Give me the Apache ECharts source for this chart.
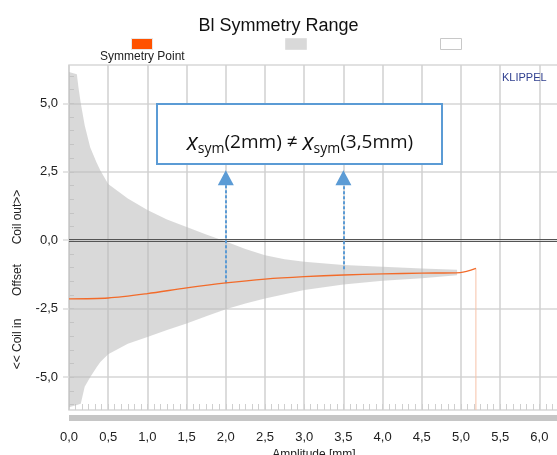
<!DOCTYPE html>
<html>
<head>
<meta charset="utf-8">
<script src="https://cdn.jsdelivr.net/npm/echarts@6/dist/echarts.min.js"></script>
<style>html,body{margin:0;padding:0;background:#fff}#c{width:557px;height:455px}</style>
</head>
<body>
<div id="c"></div>
<script>
// ---- data ----
const bandX     = [0, 0.1, 0.12, 0.15, 0.2, 0.27, 0.35, 0.4, 0.5, 0.75, 1.0, 1.25, 1.5, 1.75, 2.0, 2.25, 2.5, 2.75, 3.0, 3.5, 4.0, 4.5, 4.95];
const bandUpper = [6.14, 6.06, 5.6, 5.0, 4.2, 3.4, 2.85, 2.55, 2.05, 1.52, 1.1, 0.76, 0.48, 0.21, -0.05, -0.32, -0.55, -0.69, -0.79, -0.9, -0.97, -1.03, -1.08];
const bandLower = [-6.1, -6.02, -6.0, -5.97, -5.35, -5.0, -4.65, -4.45, -4.16, -3.78, -3.53, -3.28, -3.04, -2.78, -2.52, -2.31, -2.13, -1.97, -1.82, -1.62, -1.48, -1.39, -1.28];
const symX = [0, 0.5, 1.0, 1.5, 2.0, 2.5, 3.0, 3.5, 4.0, 4.5, 4.99, 5.19];
const symY = [-2.14, -2.11, -1.95, -1.74, -1.56, -1.42, -1.33, -1.27, -1.23, -1.2, -1.18, -1.03];
const dropX = [5.19, 5.19];
const dropY = [-1.03, -6.2];
const arrowX = [2.0, 3.5];
const arrowFromY = [-1.57, -1.06];
const arrowToY = [2.28, 2.28];
const yTickLabels = [-5, -2.5, 0, 2.5, 5];
const yMinorTicks = [-6, -5.5, -5, -4.5, -4, -3.5, -3, -2.5, -2, -1.5, -1, -0.5, 0, 0.5, 1, 1.5, 2, 2.5, 3, 3.5, 4, 4.5, 5, 5.5, 6];
const xRange = [0, 6.25];
const yRange = [-6.2, 6.4];

const FONT = "'Liberation Sans', Arial, sans-serif";
const fmt = v => v.toFixed(1).replace('.', ',');

const bandData = bandX.map((x, i) => [x, bandLower[i], bandUpper[i]]);
const symData = symX.map((x, i) => [x, symY[i]]);
const dropData = dropX.map((x, i) => [x, dropY[i]]);
const arrowLines = arrowX.map((x, i) => [{coord: [x, arrowFromY[i]]}, {coord: [x, arrowToY[i]]}]);

function renderBand(params, api) {
  if (params.dataIndex !== 0) return null;
  const pts = [];
  for (let i = 0; i < bandData.length; i++) pts.push(api.coord([bandData[i][0], bandData[i][2]]));
  for (let i = bandData.length - 1; i >= 0; i--) pts.push(api.coord([bandData[i][0], bandData[i][1]]));
  return {
    type: 'polygon',
    shape: {points: pts},
    style: {fill: 'rgba(185,185,185,0.55)', stroke: null}
  };
}

const chart = echarts.init(document.getElementById('c'), null, {renderer: 'canvas'});
chart.setOption({
  animation: false,
  backgroundColor: '#fff',
  title: {
    text: 'Bl Symmetry Range', left: 'center', top: 12,
    textStyle: {fontFamily: FONT, fontSize: 18, fontWeight: 'normal', color: '#111'}
  },
  grid: {left: 69, top: 65, right: -2, bottom: 45, containLabel: false, outerBoundsMode: 'none',
    show: true, borderColor: '#d8d8d8', borderWidth: 1.5},
  xAxis: [{
    type: 'value', min: xRange[0], max: xRange[1], interval: 0.5,
    name: 'Amplitude [mm]', nameLocation: 'middle', nameGap: 34,
    nameTextStyle: {fontFamily: FONT, fontSize: 12, color: '#222'},
    axisLine: {show: false, onZero: false},
    axisTick: {show: true, inside: true, length: 6, lineStyle: {color: '#cfcfcf', width: 1}},
    minorTick: {show: true, splitNumber: 6, length: 6, lineStyle: {color: '#cfcfcf', width: 1}},
    axisLabel: {
      fontFamily: FONT, fontSize: 13, color: '#222', margin: 21,
      formatter: v => (Math.abs(v * 2 - Math.round(v * 2)) < 1e-6 && v <= 6.01) ? fmt(v) : ''
    },
    splitLine: {show: true, lineStyle: {color: '#d0d0d0', width: 1.5}}
  }, {
    type: 'value', min: xRange[0], max: xRange[1], position: 'bottom', offset: 8,
    axisLine: {show: true, onZero: false, lineStyle: {color: '#c6c6c6', width: 6, cap: 'butt'}},
    axisTick: {show: false}, axisLabel: {show: false}, splitLine: {show: false}
  }],
  yAxis: [{
    type: 'value', min: yRange[0], max: yRange[1],
    axisLine: {show: false, onZero: false},
    axisTick: {show: true, customValues: yTickLabels, length: 6, lineStyle: {color: '#dcdcdc', width: 1.5}},
    axisLabel: {customValues: yTickLabels, fontFamily: FONT, fontSize: 13, color: '#222', margin: 11, formatter: v => fmt(v)},
    splitLine: {show: true, lineStyle: {color: '#e0e0e0', width: 2}}
  }, {
    type: 'value', min: yRange[0], max: yRange[1], position: 'left',
    axisLine: {show: false, onZero: false},
    axisTick: {show: true, inside: true, customValues: yMinorTicks, length: 5, lineStyle: {color: '#d0d0d0', width: 1}},
    axisLabel: {show: false}, splitLine: {show: false}
  }],
  series: [
    {
      type: 'custom', name: 'band', data: bandData, renderItem: renderBand, silent: true, z: 1,
      encode: {x: 0, y: [1, 2]}
    },
    {
      type: 'line', name: 'zero', data: [], silent: true,
      markLine: {
        silent: true, symbol: 'none', label: {show: false},
        lineStyle: {color: '#555', width: 1.2, type: 'solid'},
        data: [{yAxis: 0.045}, {yAxis: -0.045}]
      }
    },
    {
      type: 'line', name: 'Symmetry Point', data: symData, showSymbol: false, smooth: 0.3,
      lineStyle: {color: '#f26b2a', width: 1.3}, z: 5,
      markLine: {
        silent: true, symbol: ['none', 'triangle'], symbolSize: [16, 15], label: {show: false},
        lineStyle: {color: '#5b9bd5', width: 2, type: [3, 2]},
        itemStyle: {color: '#5b9bd5'},
        data: arrowLines
      }
    },
    {
      type: 'line', name: 'drop', data: dropData, showSymbol: false,
      lineStyle: {color: '#f7c2a8', width: 1}, z: 4
    }
  ],
  graphic: [
    {type: 'rect', left: 131, top: 38, z: 100, shape: {width: 21, height: 11}, style: {fill: '#ff5200', stroke: '#e8e8e8', lineWidth: 1}},
    {type: 'text', left: 100, top: 51, z: 100, style: {text: 'Symmetry Point', font: '12px ' + FONT, fill: '#222'}},
    {type: 'rect', left: 285, top: 38, z: 100, shape: {width: 21, height: 11}, style: {fill: '#d9d9d9', stroke: '#e0e0e0', lineWidth: 1}},
    {type: 'rect', left: 440, top: 38, z: 100, shape: {width: 21, height: 11}, style: {fill: '#fff', stroke: '#c8c8c8', lineWidth: 1}},
    {type: 'text', left: 502, top: 72, z: 100, style: {text: 'KLIPPEL', font: '11px ' + FONT, fill: '#2f3f8f'}},
    {type: 'text', rotation: Math.PI / 2, z: 100, x: 18, y: 217,
      style: {text: 'Coil out>>', font: '12px ' + FONT, fill: '#222', align: 'center', verticalAlign: 'middle'}},
    {type: 'text', rotation: Math.PI / 2, z: 100, x: 18, y: 280,
      style: {text: 'Offset', font: '12px ' + FONT, fill: '#222', align: 'center', verticalAlign: 'middle'}},
    {type: 'text', rotation: Math.PI / 2, z: 100, x: 18, y: 344,
      style: {text: '<< Coil in', font: '12px ' + FONT, fill: '#222', align: 'center', verticalAlign: 'middle'}},
    {type: 'rect', z: 100, x: 157, y: 104, shape: {width: 285, height: 60}, style: {fill: '#fff', stroke: '#5b9bd5', lineWidth: 2}},
    {type: 'text', z: 101, x: 300, y: 143,
      style: {
        text: '{x|x}{s|sym}{t|(2mm) ≠ }{x|x}{s|sym}{t|(3,5mm)}',
        align: 'center', verticalAlign: 'middle',
        rich: {
          x: {fontFamily: "'Open Sans', 'Liberation Sans', sans-serif", fontStyle: 'italic', fontSize: 23, fill: '#111', lineHeight: 30},
          s: {fontFamily: "'Open Sans', 'Liberation Sans', sans-serif", fontSize: 14, fill: '#111', lineHeight: 30, padding: [12, 0, 0, 0]},
          t: {fontFamily: "'Open Sans', 'Liberation Sans', sans-serif", fontSize: 19, fill: '#111', lineHeight: 30}
        }
      }}
  ]
});
</script>
</body>
</html>
